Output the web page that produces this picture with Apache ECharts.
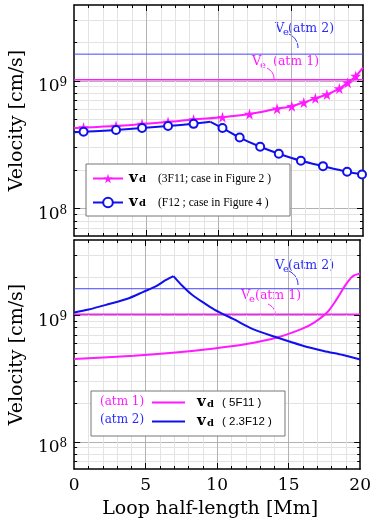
<!DOCTYPE html>
<html>
<head>
<meta charset="utf-8">
<script src="https://cdn.jsdelivr.net/npm/echarts@6/dist/echarts.min.js"></script>
<style>
  html, body { margin: 0; padding: 0; background: #fff; }
  #chart { width: 374px; height: 523px; }
</style>
</head>
<body>
<div id="chart"></div>
<script>
// tick positions
const lengthLabels = [0, 5, 10, 15, 20];
const lengthMajorTicks = [5, 10, 15];
const lengthMinorTicks = [1, 2, 3, 4, 6, 7, 8, 9, 11, 12, 13, 14, 16, 17, 18, 19];
const velMajorTicks = [1e8, 1e9];
const velMinorTicks = [7e7, 8e7, 9e7, 2e8, 3e8, 4e8, 5e8, 6e8, 7e8, 8e8, 9e8, 2e9, 3e9];

// escape velocities
const veAtm1 = 1.02e9;
const veAtm2 = 1.62e9;

// top panel: 3F11 (stars) and F12 (circles)
const x3F11 = [0, 0.65, 2.9, 4.7, 6.5, 8.27, 10.27, 12.14, 14.05, 15.07, 15.9, 16.7, 17.5, 18.36, 18.94, 19.5, 20];
const vd3F11 = [4.27e8, 4.32e8, 4.43e8, 4.59e8, 4.76e8, 4.99e8, 5.2e8, 5.5e8, 6.05e8, 6.34e8, 6.78e8, 7.3e8, 7.83e8, 8.7e8, 9.68e8, 1.09e9, 1.27e9];
const mark3F11 = [0, 1, 1, 1, 1, 1, 1, 1, 1, 1, 1, 1, 1, 1, 1, 1, 0];

const xF12 = [0, 0.65, 2.9, 4.7, 6.5, 8.27, 9.44, 10.27, 11.46, 12.88, 14.17, 15.7, 17.23, 18.9, 19.93, 20];
const vdF12 = [3.96e8, 4.0e8, 4.12e8, 4.27e8, 4.43e8, 4.61e8, 4.78e8, 4.27e8, 3.6e8, 3.05e8, 2.69e8, 2.37e8, 2.15e8, 1.94e8, 1.85e8, 1.84e8];
const markF12 = [0, 1, 1, 1, 1, 1, 0, 1, 1, 1, 1, 1, 1, 1, 1, 0];
const peakF12 = 6;

// bottom panel: 5F11 (atm 1) and 2.3F12 (atm 2)
const x5F11 = [0, 4.17, 7.09, 9.8, 12.05, 14.19, 15.88, 16.78, 17.68, 18.36, 18.92, 19.37, 19.6, 20];
const vd5F11 = [4.51e8, 4.79e8, 5.08e8, 5.47e8, 5.92e8, 6.67e8, 7.76e8, 8.75e8, 1.05e9, 1.34e9, 1.7e9, 1.98e9, 2.07e9, 2.14e9];

const x23F12 = [0, 1.01, 2.36, 3.72, 4.84, 5.74, 6.42, 6.94, 7.54, 8.22, 9.12, 9.8, 11.15, 12.5, 14.19, 15.88, 17.45, 18.8, 20];
const vd23F12 = [1.05e9, 1.11e9, 1.22e9, 1.35e9, 1.53e9, 1.7e9, 1.9e9, 2.04e9, 1.72e9, 1.46e9, 1.24e9, 1.11e9, 9.3e8, 7.76e8, 6.67e8, 5.8e8, 5.22e8, 4.85e8, 4.47e8];
const peak23F12 = 7;

const legendNotes = {
  vd3F11: "(3F11; case in Figure 2 )",
  vdF12: "(F12 ; case in Figure 4 )",
  vd5F11: "( 5F11 )",
  vd23F12: "( 2.3F12 )",
};

const FONT = "DejaVu Serif";
const PINK = "#ff1aff";
const BLUE = "#1010ee";
const BLUE_LIGHT = "#4545ff";
const BLUE_TEXT = "#2a2aff";
const STAR = "path://M50,0 L61,35 L98,35 L68,57 L79,91 L50,70 L21,91 L32,57 L2,35 L39,35 Z";

const grids = [
  { left: 67, top: 5, width: 296, height: 231 },
  { left: 67, top: 240, width: 296, height: 229 },
];

function pairs(xs, vs, marks) {
  return xs.map(function (x, i) {
    if (marks && !marks[i]) return { value: [x, vs[i]], symbol: "none" };
    return [x, vs[i]];
  });
}

function makeXAxes(gi, withLabels) {
  const base = { gridIndex: gi, type: "value", min: 0, max: 20 };
  const frame = { show: true, onZero: false, lineStyle: { color: "#000", width: 1.5 } };
  return [
    Object.assign({}, base, {
      position: "bottom",
      axisLine: frame,
      axisTick: { show: true, inside: true, length: 6, customValues: lengthMajorTicks, lineStyle: { color: "#000" } },
      axisLabel: { show: withLabels, customValues: lengthLabels, margin: 8, fontFamily: FONT, fontSize: 17, color: "#000" },
      splitLine: { show: true, lineStyle: { color: "#b2b2b2", width: 1 } },
      name: withLabels ? "Loop half-length [Mm]" : "",
      nameLocation: "middle",
      nameGap: 31,
      nameTextStyle: { fontFamily: FONT, fontSize: 19, color: "#000", padding: [0, 14, 0, 0] },
    }),
    Object.assign({}, base, {
      position: "bottom",
      axisLine: { show: false, onZero: false },
      axisTick: { show: true, inside: true, length: 3, customValues: lengthMinorTicks, lineStyle: { color: "#000" } },
      axisLabel: { show: false },
      splitLine: { show: true, lineStyle: { color: "#e3e3e3", width: 1 } },
    }),
    Object.assign({}, base, {
      position: "top",
      axisLine: frame,
      axisTick: { show: true, inside: true, length: 6, customValues: lengthMajorTicks, lineStyle: { color: "#000" } },
      axisLabel: { show: false },
      splitLine: { show: false },
    }),
    Object.assign({}, base, {
      position: "top",
      axisLine: { show: false, onZero: false },
      axisTick: { show: true, inside: true, length: 3, customValues: lengthMinorTicks, lineStyle: { color: "#000" } },
      axisLabel: { show: false },
      splitLine: { show: false },
    }),
  ];
}

function makeYAxes(gi) {
  const base = { gridIndex: gi, type: "log", logBase: 10, min: 6.1e7, max: 3.93e9 };
  const frame = { show: true, onZero: false, lineStyle: { color: "#000", width: 1.5 } };
  return [
    Object.assign({}, base, {
      position: "left",
      axisLine: frame,
      axisTick: { show: true, inside: true, length: 6, customValues: velMajorTicks, lineStyle: { color: "#000" } },
      axisLabel: {
        customValues: velMajorTicks,
        margin: 7,
        padding: [12, 0, 0, 0],
        formatter: function (v) {
          return "{a|10}{b|" + Math.round(Math.log10(v)) + "}";
        },
        rich: {
          a: { fontFamily: FONT, fontSize: 17, color: "#000", lineHeight: 20 },
          b: { fontFamily: FONT, fontSize: 12, color: "#000", lineHeight: 16, verticalAlign: "top" },
        },
      },
      splitLine: { show: true, lineStyle: { color: "#b2b2b2", width: 1 } },
      name: "Velocity [cm/s]",
      nameLocation: "middle",
      nameGap: 45,
      nameTextStyle: { fontFamily: FONT, fontSize: 19, color: "#000" },
    }),
    Object.assign({}, base, {
      position: "left",
      axisLine: { show: false, onZero: false },
      axisTick: { show: true, inside: true, length: 3, customValues: velMinorTicks, lineStyle: { color: "#000" } },
      axisLabel: { show: false },
      splitLine: { show: true, lineStyle: { color: "#e3e3e3", width: 1 } },
    }),
    Object.assign({}, base, {
      position: "right",
      axisLine: frame,
      axisTick: { show: true, inside: true, length: 6, customValues: velMajorTicks, lineStyle: { color: "#000" } },
      axisLabel: { show: false },
      splitLine: { show: false },
    }),
    Object.assign({}, base, {
      position: "right",
      axisLine: { show: false, onZero: false },
      axisTick: { show: true, inside: true, length: 3, customValues: velMinorTicks, lineStyle: { color: "#000" } },
      axisLabel: { show: false },
      splitLine: { show: false },
    }),
  ];
}

function veLine(axisIdx, value, color, width) {
  return {
    type: "line",
    xAxisIndex: axisIdx,
    yAxisIndex: axisIdx,
    data: [[0, value], [20, value]],
    symbol: "none",
    silent: true,
    lineStyle: { color: color, width: width },
    z: 1,
  };
}

// a v_d curve, split at its kink so the smoothing keeps the corner sharp
function vdCurve(name, axisIdx, data, color, extra) {
  return Object.assign({
    name: name,
    type: "line",
    xAxisIndex: axisIdx,
    yAxisIndex: axisIdx,
    data: data,
    smooth: 0.3,
    lineStyle: { color: color, width: 2 },
    itemStyle: { color: color },
    z: 3,
  }, extra || {});
}

function legendRich(sp, vw, dw, pw, noteFont, lh) {
  return {
    s: { width: sp, lineHeight: lh },
    v: { fontFamily: FONT, fontWeight: "bold", fontSize: 15, color: "#000", width: vw, lineHeight: lh },
    d: { fontFamily: FONT, fontWeight: "bold", fontSize: 10, color: "#000", width: dw, lineHeight: 8, verticalAlign: "bottom" },
    p: { fontFamily: noteFont, fontSize: 11.5, color: "#000", width: pw, lineHeight: lh },
  };
}

function legendFormatter(name) {
  return "{s| }{v|v}{d|d}{p|" + legendNotes[name] + "}";
}

function veLabel(x, y, atm, color, gap) {
  return {
    type: "text",
    silent: true,
    style: {
      x: x,
      y: y,
      text: "{V|V}{e|e}{t|(atm " + atm + ")}",
      verticalAlign: "middle",
      rich: {
        V: { fontFamily: FONT, fontSize: 13, fill: color, width: 8, lineHeight: 16 },
        e: { fontFamily: FONT, fontSize: 10, fill: color, width: gap, lineHeight: 10, verticalAlign: "bottom" },
        t: { fontFamily: FONT, fontSize: 12.5, fill: color, lineHeight: 16 },
      },
    },
  };
}

function leader(x1, y1, cx1, cy1, cx2, cy2, x2, y2, color) {
  return {
    type: "bezierCurve",
    silent: true,
    shape: { x1: x1, y1: y1, cpx1: cx1, cpy1: cy1, cpx2: cx2, cpy2: cy2, x2: x2, y2: y2 },
    style: { stroke: color, lineWidth: 1, fill: null },
  };
}

const dataF12 = pairs(xF12, vdF12, markF12);
const data23F12 = pairs(x23F12, vd23F12);

const chart = echarts.init(document.getElementById("chart"));

const option = {
  backgroundColor: "#fff",
  animation: false,
  grid: grids,
  xAxis: makeXAxes(0, false).concat(makeXAxes(1, true)),
  yAxis: makeYAxes(0).concat(makeYAxes(1)),
  legend: [
    {
      data: ["vd3F11", "vdF12"],
      orient: "vertical",
      left: 86,
      top: 164,
      padding: [7, 4, 6, 6],
      itemWidth: 30,
      itemHeight: 12,
      itemGap: 9,
      backgroundColor: "#fff",
      borderColor: "#777",
      borderWidth: 1,
      selectedMode: false,
      formatter: legendFormatter,
      textStyle: { rich: legendRich(1, 10, 19, 128, "Liberation Serif", 12) },
    },
    {
      data: ["vd5F11", "vd23F12"],
      orient: "vertical",
      left: 91,
      top: 391,
      padding: [4, 11, 7, 60],
      itemWidth: 33,
      itemHeight: 14,
      itemGap: 4,
      backgroundColor: "#fff",
      borderColor: "#777",
      borderWidth: 1,
      selectedMode: false,
      itemStyle: { opacity: 0 },
      formatter: legendFormatter,
      textStyle: { rich: legendRich(7, 10, 15, 52, "Liberation Sans", 14) },
    },
  ],
  series: [
    veLine(0, veAtm2, BLUE_LIGHT, 1),
    veLine(0, veAtm1, PINK, 1.5),
    vdCurve("vd3F11", 0, pairs(x3F11, vd3F11, mark3F11), PINK, {
      symbol: STAR,
      symbolSize: 11,
      itemStyle: { color: PINK, borderWidth: 0 },
    }),
    vdCurve("vdF12", 0, dataF12.slice(0, peakF12 + 1), BLUE, {
      smooth: 0.2,
      symbol: "emptyCircle",
      symbolSize: 8,
      itemStyle: { color: BLUE, borderWidth: 1.5 },
    }),
    vdCurve("vdF12", 0, dataF12.slice(peakF12), BLUE, {
      smooth: 0.2,
      symbol: "emptyCircle",
      symbolSize: 8,
      itemStyle: { color: BLUE, borderWidth: 1.5 },
    }),
    veLine(4, veAtm2, BLUE_LIGHT, 1),
    veLine(4, veAtm1, PINK, 1.5),
    vdCurve("vd5F11", 4, pairs(x5F11, vd5F11), PINK, { symbol: "none" }),
    vdCurve("vd23F12", 4, data23F12.slice(0, peak23F12 + 1), BLUE, { symbol: "none" }),
    vdCurve("vd23F12", 4, data23F12.slice(peak23F12), BLUE, { symbol: "none" }),
  ],
  graphic: [
    veLabel(275, 29, 2, BLUE_TEXT, 5),
    leader(289, 34, 295, 37, 298, 42, 298, 48, BLUE_TEXT),
    veLabel(252, 62, 1, PINK, 13),
    leader(267, 68, 272, 71, 274, 74, 274, 79, PINK),
    veLabel(275, 266, 2, BLUE_TEXT, 5),
    leader(289, 271, 295, 274, 298, 279, 298, 285, BLUE_TEXT),
    veLabel(241, 296, 1, PINK, 6),
    leader(268, 304, 272, 306, 275, 309, 275, 313, PINK),
    {
      type: "text",
      silent: true,
      z: 100,
      style: { x: 100, y: 402, text: "(atm 1)", verticalAlign: "middle", fontFamily: FONT, fontSize: 12, fill: PINK },
    },
    {
      type: "text",
      silent: true,
      z: 100,
      style: { x: 100, y: 420, text: "(atm 2)", verticalAlign: "middle", fontFamily: FONT, fontSize: 12, fill: BLUE_TEXT },
    },
  ],
};

chart.setOption(option);
</script>
</body>
</html>
